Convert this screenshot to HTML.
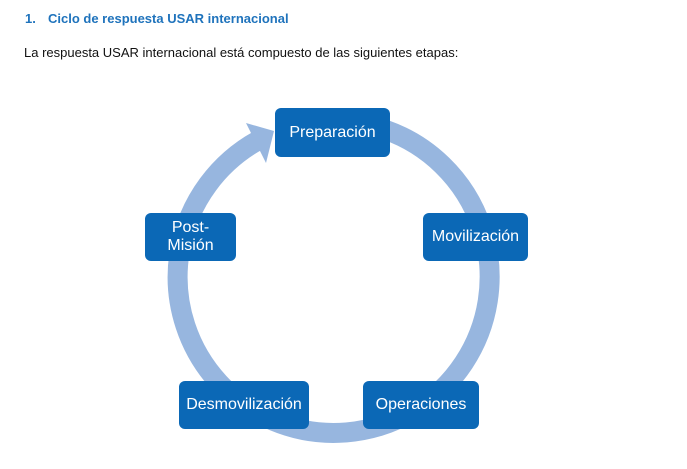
<!DOCTYPE html>
<html><head><meta charset="utf-8"><style>
body{margin:0;width:687px;height:469px;background:#fff;position:relative;overflow:hidden;font-family:"Liberation Sans",Arial,sans-serif}
.t{position:absolute;white-space:nowrap;font-size:13px}
.b{position:absolute;background:#0b68b6;border-radius:6px;color:#fff;font-size:16px;display:flex;align-items:center;justify-content:center;text-align:center;line-height:18px}
</style></head><body>
<div class="t" style="left:25px;top:11px;color:#1f73bc;font-weight:bold">1.</div>
<div class="t" style="left:48px;top:11px;color:#1f73bc;font-weight:bold">Ciclo de respuesta USAR internacional</div>
<div class="t" style="left:24px;top:45px;color:#111">La respuesta USAR internacional está compuesto de las siguientes etapas:</div>
<svg width="687" height="469" style="position:absolute;left:0;top:0">
<path d="M386 130 A156 156 0 1 1 258 140.5" fill="none" stroke="#97b6df" stroke-width="20"/>
<polygon points="246,123 274,131 266,163" fill="#97b6df"/>
</svg>
<div class="b" style="left:275px;top:108px;width:115px;height:49px">Preparación</div>
<div class="b" style="left:145px;top:213px;width:91px;height:48px">Post-<br>Misión</div>
<div class="b" style="left:423px;top:213px;width:105px;height:48px">Movilización</div>
<div class="b" style="left:179px;top:381px;width:130px;height:48px">Desmovilización</div>
<div class="b" style="left:363px;top:381px;width:116px;height:48px">Operaciones</div>
</body></html>
